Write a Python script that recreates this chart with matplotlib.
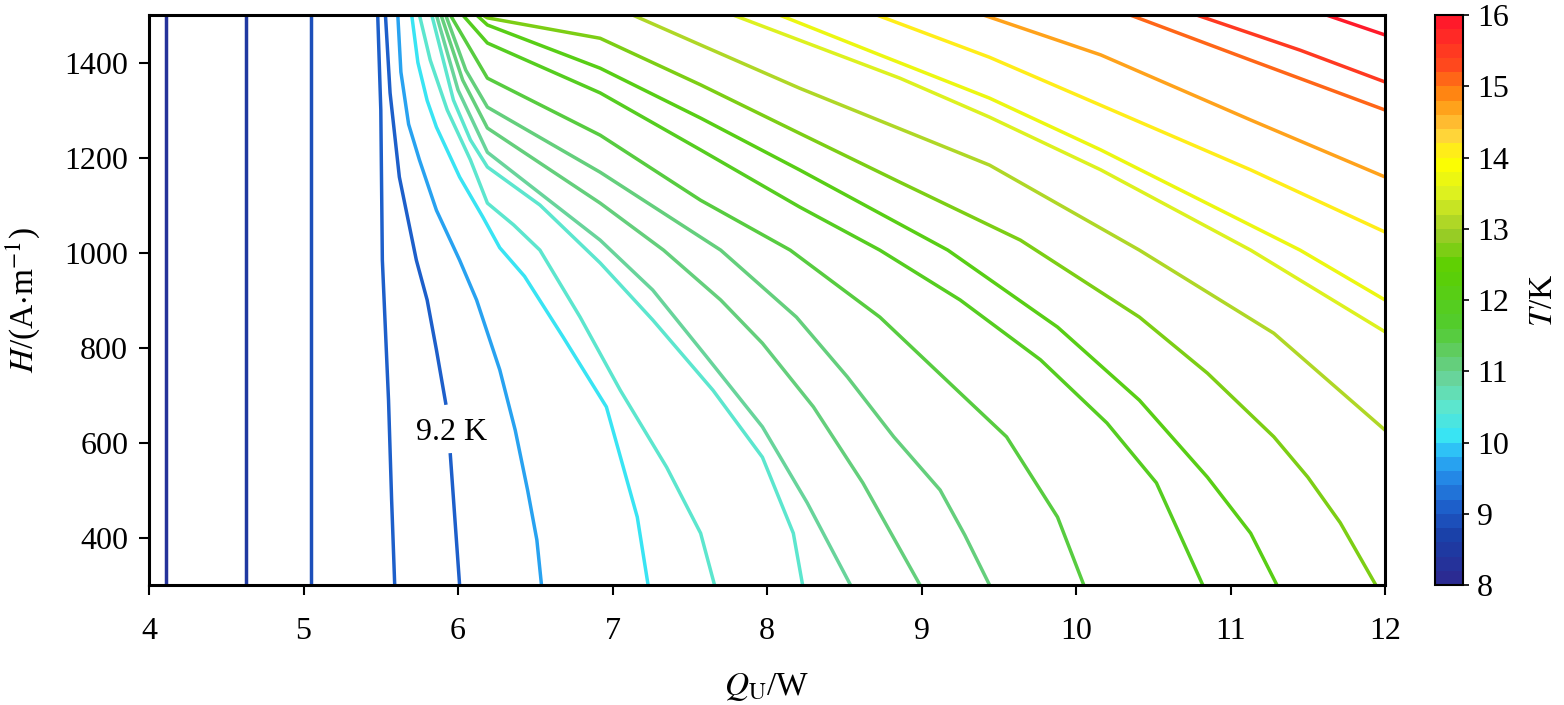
import matplotlib
matplotlib.use('Agg')
import matplotlib.pyplot as plt
import numpy as np
from matplotlib.colors import LinearSegmentedColormap, Normalize
from matplotlib.colorbar import ColorbarBase

plt.rcParams['font.family'] = ['Liberation Serif', 'DejaVu Serif']
plt.rcParams['mathtext.fontset'] = 'stix'

# contour levels (K) and the traced isolines, Q in W, H in A/m
levels = [8.3, 8.6, 8.85, 9.0, 9.2, 9.7, 10.1, 10.4, 10.6, 10.8, 11.0, 11.2,
          11.5, 11.8, 12.1, 12.6, 13.0, 13.4, 13.7, 14.0, 14.6, 15.1, 15.5, 15.8]

q_83 = [4.11, 4.11]
h_83 = [300, 1500]
q_86 = [4.63, 4.63]
h_86 = [300, 1500]
q_885 = [5.05, 5.05]
h_885 = [300, 1500]
q_90 = [5.48, 5.50, 5.51, 5.55, 5.57, 5.59]
h_90 = [1500, 1300, 984, 689, 479, 300]
# 9.2 K line is split around its label
q_92a = [5.53, 5.56, 5.62, 5.73, 5.80, 5.86, 5.92]
h_92a = [1500, 1336, 1159, 984, 900, 795, 683]
q_92b = [5.95, 5.98, 6.01]
h_92b = [574, 437, 300]
q_97 = [5.61, 5.63, 5.68, 5.75, 5.86, 6.01, 6.12, 6.27, 6.37, 6.45, 6.51, 6.54]
h_97 = [1500, 1380, 1270, 1195, 1089, 984, 900, 753, 626, 500, 395, 300]
q_101 = [5.70, 5.74, 5.80, 5.86, 6.01, 6.16, 6.27, 6.43, 6.68, 6.96, 7.16, 7.23]
h_101 = [1500, 1400, 1320, 1264, 1159, 1075, 1010, 950, 822, 675, 443, 300]
q_104 = [5.75, 5.82, 5.93, 6.08, 6.19, 6.36, 6.53, 6.79, 7.05, 7.35, 7.57, 7.66]
h_104 = [1500, 1405, 1300, 1195, 1104, 1058, 1005, 864, 710, 548, 409, 300]
q_106 = [5.83, 5.97, 6.08, 6.19, 6.53, 6.92, 7.26, 7.65, 7.97, 8.17, 8.23]
h_106 = [1500, 1321, 1237, 1180, 1100, 978, 858, 710, 569, 409, 300]
q_108 = [5.86, 6.00, 6.19, 6.92, 7.26, 7.61, 7.97, 8.26, 8.54]
h_108 = [1500, 1342, 1211, 1026, 921, 780, 633, 473, 300]
q_110 = [5.89, 6.03, 6.19, 6.92, 7.33, 7.70, 7.97, 8.30, 8.62, 8.99]
h_110 = [1500, 1363, 1262, 1104, 1005, 900, 809, 675, 515, 300]
q_112 = [5.92, 6.05, 6.19, 6.92, 7.70, 8.19, 8.52, 8.82, 9.12, 9.28, 9.44]
h_112 = [1500, 1384, 1306, 1169, 1005, 864, 738, 612, 500, 405, 300]
q_115 = [5.95, 6.19, 6.92, 7.57, 8.15, 8.73, 9.25, 9.55, 9.88, 10.05]
h_115 = [1500, 1367, 1247, 1110, 1005, 864, 704, 612, 443, 300]
q_118 = [6.03, 6.19, 6.92, 7.57, 8.21, 8.73, 9.25, 9.77, 10.20, 10.52, 10.82]
h_118 = [1500, 1441, 1336, 1216, 1096, 1005, 900, 774, 641, 515, 300]
q_121 = [6.12, 6.19, 6.92, 7.57, 8.21, 9.17, 9.88, 10.41, 10.85, 11.13, 11.30]
h_121 = [1500, 1479, 1388, 1283, 1174, 1005, 843, 689, 527, 409, 300]
q_126 = [6.16, 6.19, 6.92, 7.57, 8.21, 8.86, 9.64, 10.41, 10.85, 11.28, 11.50, 11.71, 11.94]
h_126 = [1500, 1494, 1451, 1353, 1251, 1148, 1026, 864, 746, 612, 527, 431, 300]
q_130 = [7.13, 7.57, 8.21, 9.44, 10.41, 11.28, 12.0]
h_130 = [1500, 1437, 1346, 1184, 1005, 830, 626]
q_134 = [7.78, 8.21, 8.86, 9.44, 10.16, 11.13, 12.0]
h_134 = [1500, 1447, 1367, 1285, 1174, 1005, 833]
q_137 = [8.08, 8.73, 9.44, 10.16, 11.45, 12.0]
h_137 = [1500, 1416, 1325, 1216, 1005, 900]
q_140 = [8.71, 9.44, 10.16, 11.13, 12.0]
h_140 = [1500, 1411, 1310, 1174, 1043]
q_146 = [9.40, 10.16, 11.13, 12.0]
h_146 = [1500, 1416, 1279, 1159]
q_151 = [10.35, 11.13, 12.0]
h_151 = [1500, 1405, 1300]
q_155 = [10.78, 11.45, 12.0]
h_155 = [1500, 1426, 1359]
q_158 = [11.62, 12.0]
h_158 = [1500, 1458]

q_lines = [q_83, q_86, q_885, q_90, q_92a, q_97, q_101, q_104, q_106, q_108, q_110, q_112,
           q_115, q_118, q_121, q_126, q_130, q_134, q_137, q_140, q_146, q_151, q_155, q_158]
h_lines = [h_83, h_86, h_885, h_90, h_92a, h_97, h_101, h_104, h_106, h_108, h_110, h_112,
           h_115, h_118, h_121, h_126, h_130, h_134, h_137, h_140, h_146, h_151, h_155, h_158]

x_ticks = [4, 5, 6, 7, 8, 9, 10, 11, 12]
y_ticks = [400, 600, 800, 1000, 1200, 1400]
cb_ticks = [8, 9, 10, 11, 12, 13, 14, 15, 16]

# colour scale like the original (banded)
anchors = [(0.000, '#2b2b92'), (0.075, '#1a40a8'), (0.125, '#1d5cc8'),
           (0.190, '#2590ec'), (0.240, '#30cdf8'), (0.255, '#38e4f4'),
           (0.310, '#5ee6cc'), (0.360, '#68d49a'), (0.400, '#62cc6a'),
           (0.450, '#52cc30'), (0.560, '#5cd000'), (0.620, '#9ccc28'),
           (0.690, '#dcf020'), (0.750, '#ffff00'), (0.800, '#ffd040'),
           (0.860, '#ff9410'), (0.920, '#ff4a1c'), (1.000, '#ff1a2a')]
cmap = LinearSegmentedColormap.from_list('tk', anchors, N=40)
norm = Normalize(vmin=8, vmax=16)

fig = plt.figure(figsize=(15.64, 7.05), dpi=100)
ax = fig.add_axes([0.0953, 0.1702, 0.7903, 0.8085])
cax = fig.add_axes([0.9175, 0.1702, 0.0179, 0.8085])

for t, q, h in zip(levels, q_lines, h_lines):
    ax.plot(q, h, color=cmap(norm(t)), lw=2.5, solid_joinstyle='round')
ax.plot(q_92b, h_92b, color=cmap(norm(9.2)), lw=2.5)
ax.text(5.96, 622, '9.2 K', ha='center', va='center', fontsize=23)

ax.set_xlim(4, 12)
ax.set_ylim(300, 1500)
ax.set_xticks(x_ticks)
ax.set_yticks(y_ticks)
ax.tick_params(direction='out', length=7, width=1.5, labelsize=23)
ax.tick_params(axis='x', pad=16)
ax.tick_params(axis='y', pad=8)
for s in ax.spines.values():
    s.set_linewidth(2.2)
ax.set_xlabel('$Q_{\\mathrm{U}}$/W', fontsize=24, labelpad=18)
ax.set_ylabel('$H$/(A$\\cdot$m$^{-1}$)', fontsize=24, labelpad=16)

cb = ColorbarBase(cax, cmap=cmap, norm=norm, orientation='vertical')
cb.set_ticks(cb_ticks)
cb.outline.set_linewidth(1.5)
cax.tick_params(direction='out', length=4, width=1.2, labelsize=23, pad=6)
cb.set_label('$T$/K', fontsize=24, labelpad=14)

fig.savefig('out.png', dpi=100)
